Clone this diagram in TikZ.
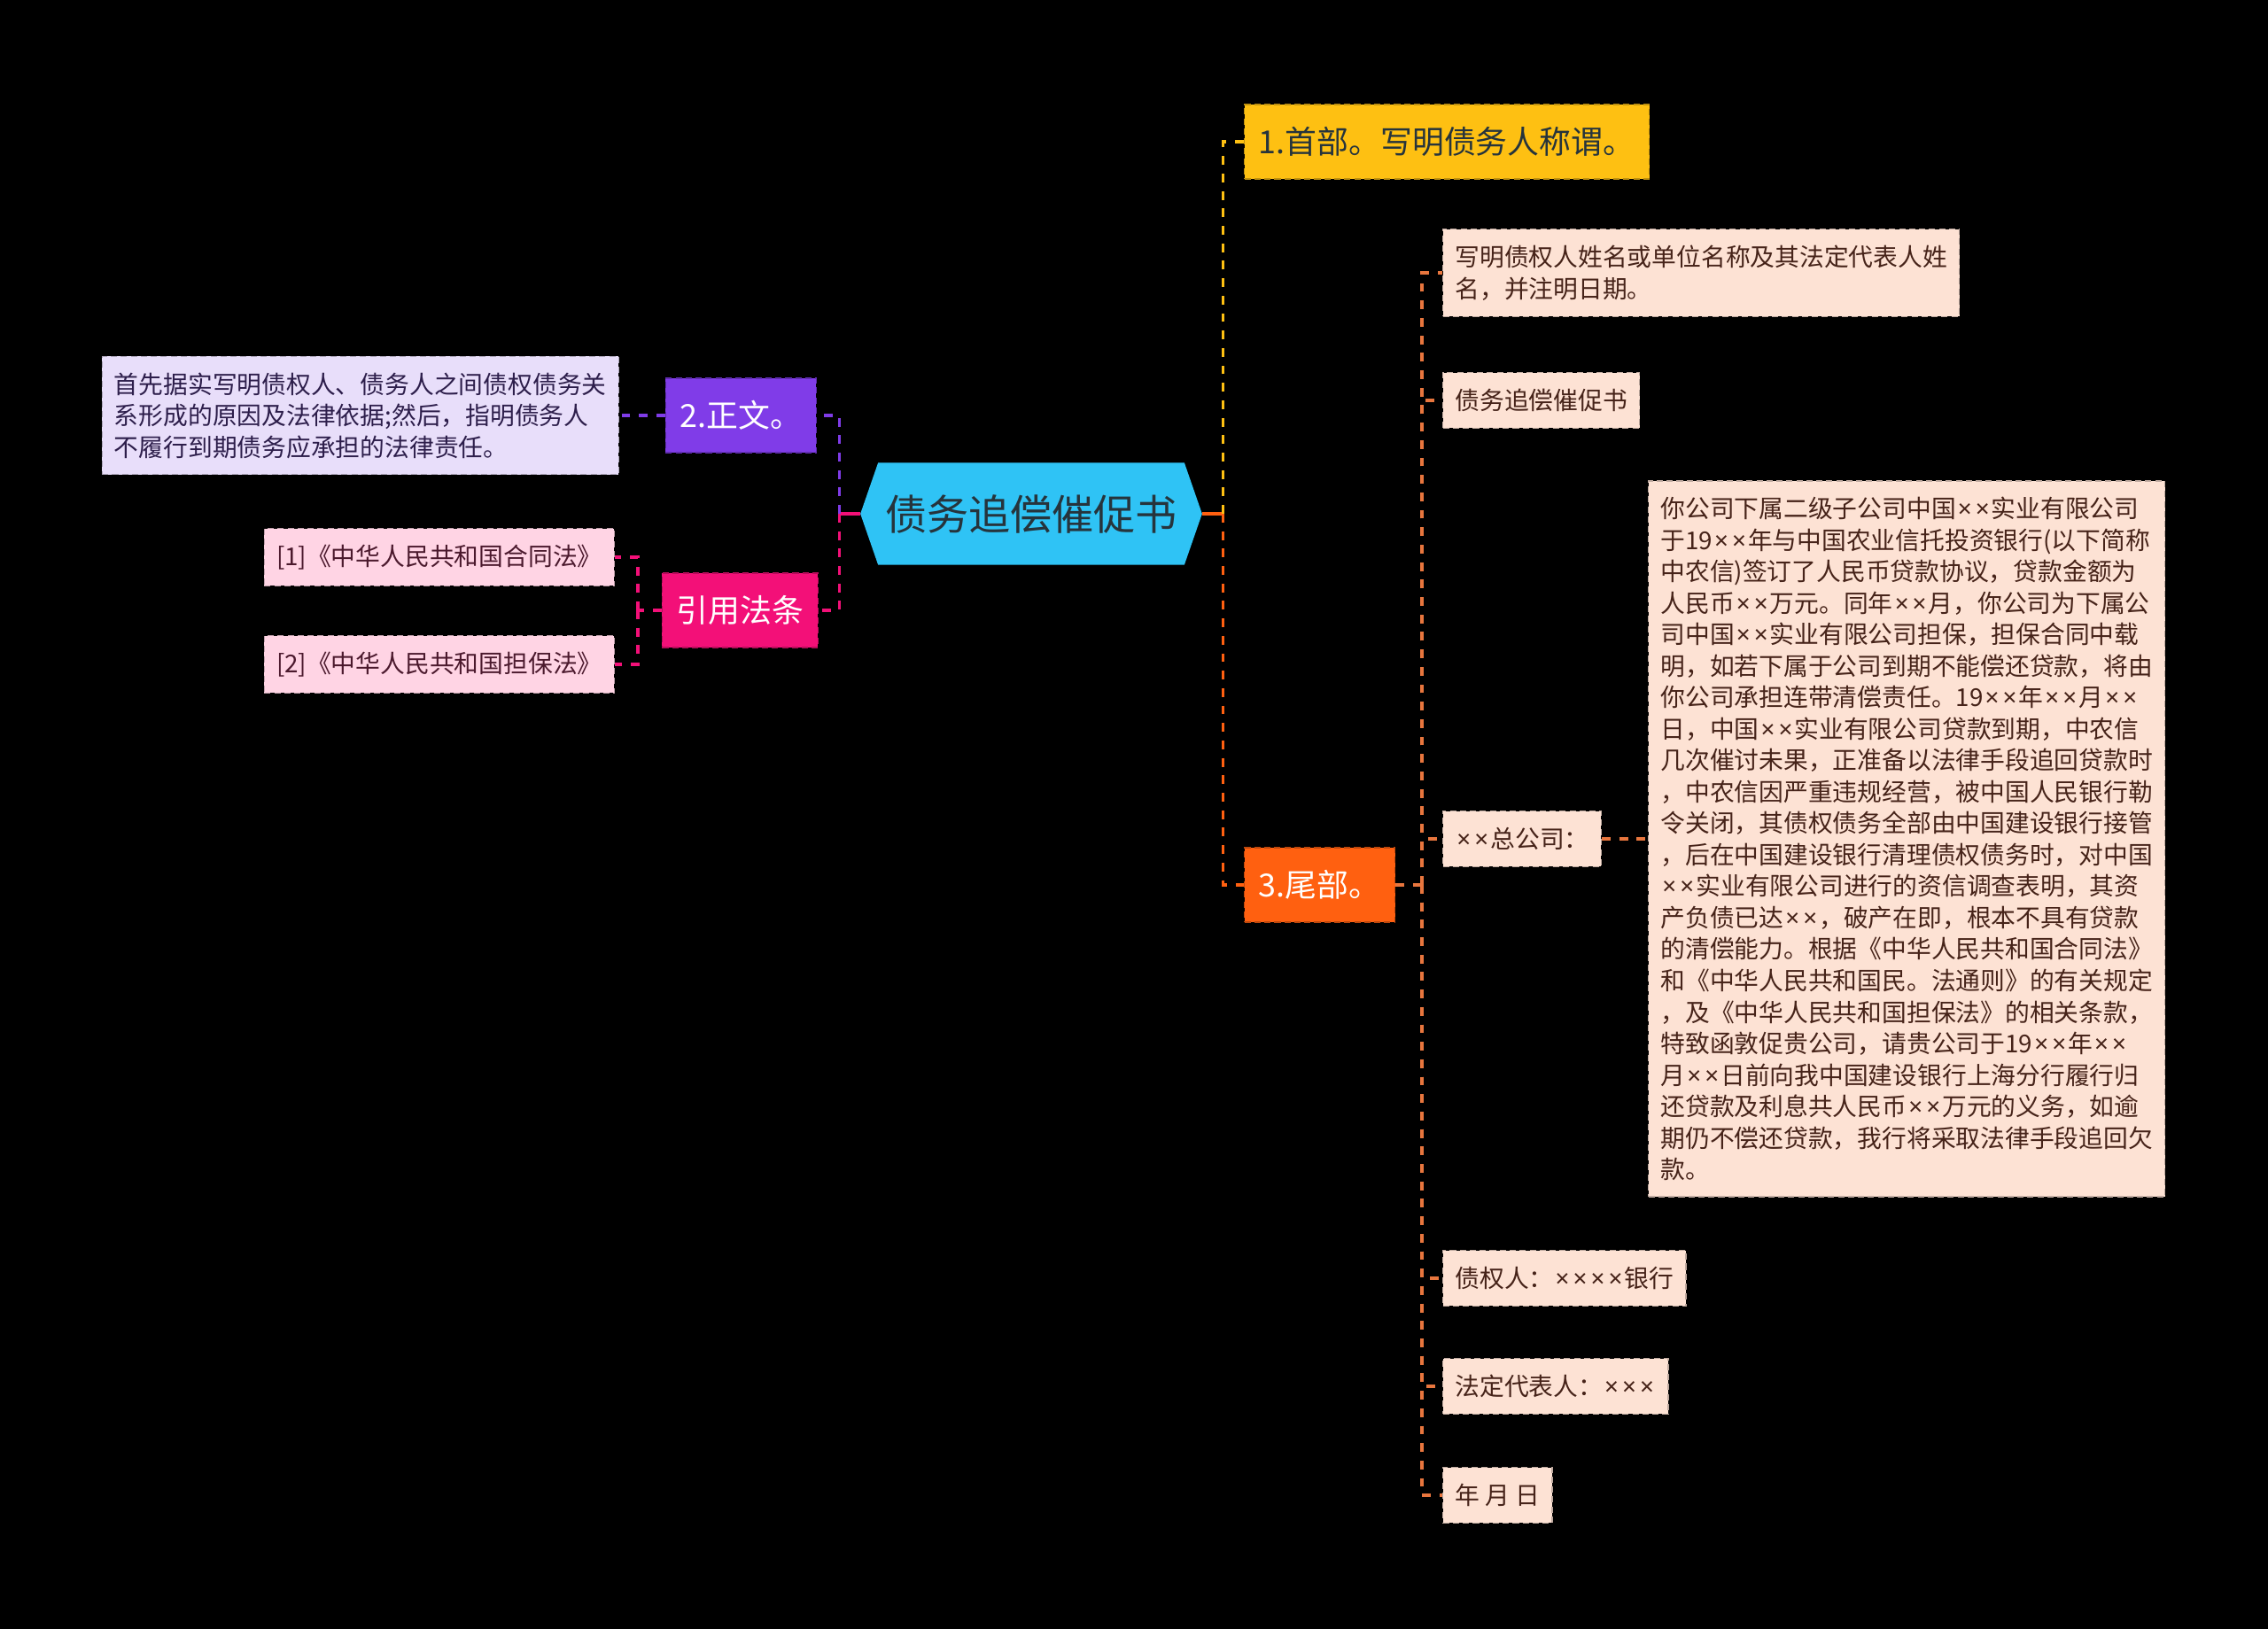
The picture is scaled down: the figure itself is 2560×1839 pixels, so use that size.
\documentclass[tikz,border=0pt]{standalone}
\usepackage{fontspec}
\setmainfont{Noto Sans CJK SC}
\newfontfamily\latinfont{Noto Sans}
\newcommand\tms{\makebox[0.72em]{\latinfont ×}}
\usetikzlibrary{backgrounds}
\definecolor{ccyan}{RGB}{47,195,245}
\definecolor{cyellow}{RGB}{254,192,18}
\definecolor{cpurple}{RGB}{128,60,232}
\definecolor{cmagenta}{RGB}{243,16,120}
\definecolor{corange}{RGB}{255,96,16}
\definecolor{clavender}{RGB}{232,222,250}
\definecolor{cblush}{RGB}{255,212,228}
\definecolor{cpeach}{RGB}{253,226,212}
\definecolor{ctail}{RGB}{232,118,62}
\definecolor{cink}{RGB}{38,52,60}
\definecolor{cplum}{RGB}{45,30,75}
\definecolor{cwine}{RGB}{75,25,45}
\definecolor{cbrown}{RGB}{70,35,25}
\tikzset{
  mapsec/.style={x=0.01cm,y=-0.01cm},
  rootbox/.style={rectangle,inner sep=0pt,minimum width=97.9pt,minimum height=32.4pt,
    text=cink,font=\fontsize{13.4}{16}\selectfont},
  mainbox/.style={rectangle,fill=#1,draw=#1!75!black,dash pattern=on 2pt off 1.2pt,
    line width=0.4pt,minimum height=23.8pt,inner xsep=4.6pt,font=\fontsize{10.2}{13}\selectfont},
  leafbox/.style={rectangle,fill=#1,draw=#1!75!black,dash pattern=on 2pt off 1.2pt,
    line width=0.4pt,minimum height=17.9pt,inner xsep=3.9pt,inner ysep=5.2pt,align=left,
    font=\fontsize{7.9}{10.1}\selectfont},
  link/.style={draw=#1,line width=0.9pt,dash pattern=on 2.8pt off 2.8pt},
  stub/.style={draw=#1,line width=0.9pt},
}

\begin{document}
\begin{tikzpicture}[mapsec]
  % centre
  \node[rootbox] (root) at (1164,580) {债务追偿催促书};
  \coordinate (rootW) at ([shift={(-20,0)}]root.west);
  \coordinate (rootE) at ([shift={(20,0)}]root.east);
  % right side
  \node[mainbox=cyellow,text=cink,anchor=west] (head) at (1404,160) {1.首部。写明债务人称谓。};
  \node[mainbox=corange,text=white,anchor=west] (tail) at (1404,999) {3.尾部。};
  % left side
  \node[mainbox=cpurple,text=white,anchor=east] (body) at (922,469) {2.正文。};
  \node[mainbox=cmagenta,text=white,anchor=east] (laws) at (924,689) {引用法条};
  \node[leafbox=clavender,text=cplum,anchor=east] (bodytxt) at (699,469)
    {首先据实写明债权人、债务人之间债权债务关\\系形成的原因及法律依据;然后，指明债务人\\不履行到期债务应承担的法律责任。};
  \node[leafbox=cblush,text=cwine,anchor=east] (law1) at (694,629) {[1]《中华人民共和国合同法》};
  \node[leafbox=cblush,text=cwine,anchor=east] (law2) at (694,750) {[2]《中华人民共和国担保法》};
  % tail leaves
  \node[leafbox=cpeach,text=cbrown,anchor=west] (sign) at (1628,308)
    {写明债权人姓名或单位名称及其法定代表人姓\\名，并注明日期。};
  \node[leafbox=cpeach,text=cbrown,anchor=west] (title) at (1628,452) {债务追偿催促书};
  \node[leafbox=cpeach,text=cbrown,anchor=west] (addr) at (1628,947) {\tms\tms{}总公司：};
  \node[leafbox=cpeach,text=cbrown,anchor=west] (letter) at (1860,947)
    {你公司下属二级子公司中国\tms\tms{}实业有限公司\\
     于19\tms\tms{}年与中国农业信托投资银行(以下简称\\
     中农信)签订了人民币贷款协议，贷款金额为\\
     人民币\tms\tms{}万元。同年\tms\tms{}月，你公司为下属公\\
     司中国\tms\tms{}实业有限公司担保，担保合同中载\\
     明，如若下属于公司到期不能偿还贷款，将由\\
     你公司承担连带清偿责任。19\tms\tms{}年\tms\tms{}月\tms\tms\\
     日，中国\tms\tms{}实业有限公司贷款到期，中农信\\
     几次催讨未果，正准备以法律手段追回贷款时\\
     ，中农信因严重违规经营，被中国人民银行勒\\
     令关闭，其债权债务全部由中国建设银行接管\\
     ，后在中国建设银行清理债权债务时，对中国\\
     \tms\tms{}实业有限公司进行的资信调查表明，其资\\
     产负债已达\tms\tms{}，破产在即，根本不具有贷款\\
     的清偿能力。根据《中华人民共和国合同法》\\
     和《中华人民共和国民。法通则》的有关规定\\
     ，及《中华人民共和国担保法》的相关条款，\\
     特致函敦促贵公司，请贵公司于19\tms\tms{}年\tms\tms\\
     月\tms\tms{}日前向我中国建设银行上海分行履行归\\
     还贷款及利息共人民币\tms\tms{}万元的义务，如逾\\
     期仍不偿还贷款，我行将采取法律手段追回欠\\
     款。};
  \node[leafbox=cpeach,text=cbrown,anchor=west] (creditor) at (1628,1443) {债权人：\tms\tms\tms\tms{}银行};
  \node[leafbox=cpeach,text=cbrown,anchor=west] (legal) at (1628,1565) {法定代表人：\tms\tms\tms};
  \node[leafbox=cpeach,text=cbrown,anchor=west] (date) at (1628,1688) {年 月 日};

  \begin{scope}[on background layer]
    \fill[black] (0,0) rectangle (2560,1839);
    \fill[ccyan] (rootW) -- (root.north west) -- (root.north east) -- (rootE)
      -- (root.south east) -- (root.south west) -- cycle;
  \end{scope}

  % connectors
  \coordinate (rJ) at ([shift={(24,0)}]rootE);
  \coordinate (lJ) at ([shift={(-24,0)}]rootW);
  \coordinate (lawJ) at (720,689);
  \coordinate (tailJ) at (1605,999);
  \draw[stub=corange] (rootE) -- (rJ);
  \draw[link=cyellow] (rJ) |- (head.west);
  \draw[link=corange] (rJ) |- (tail.west);
  \draw[stub=cmagenta] (rootW) -- (lJ);
  \draw[link=cpurple] (lJ) |- (body.east);
  \draw[link=cmagenta] (lJ) |- (laws.east);
  \draw[link=cpurple] (body.west) -- (bodytxt.east);
  \draw[link=cmagenta] (laws.west) -- (lawJ);
  \foreach \leaf in {law1,law2} \draw[link=cmagenta] (lawJ) |- (\leaf.east);
  \draw[link=ctail] (tail.east) -- (tailJ);
  \foreach \leaf in {sign,title,addr,creditor,legal,date} \draw[link=ctail] (tailJ) |- (\leaf.west);
  \draw[link=ctail] (addr.east) -- (letter.west);
\end{tikzpicture}
\end{document}
